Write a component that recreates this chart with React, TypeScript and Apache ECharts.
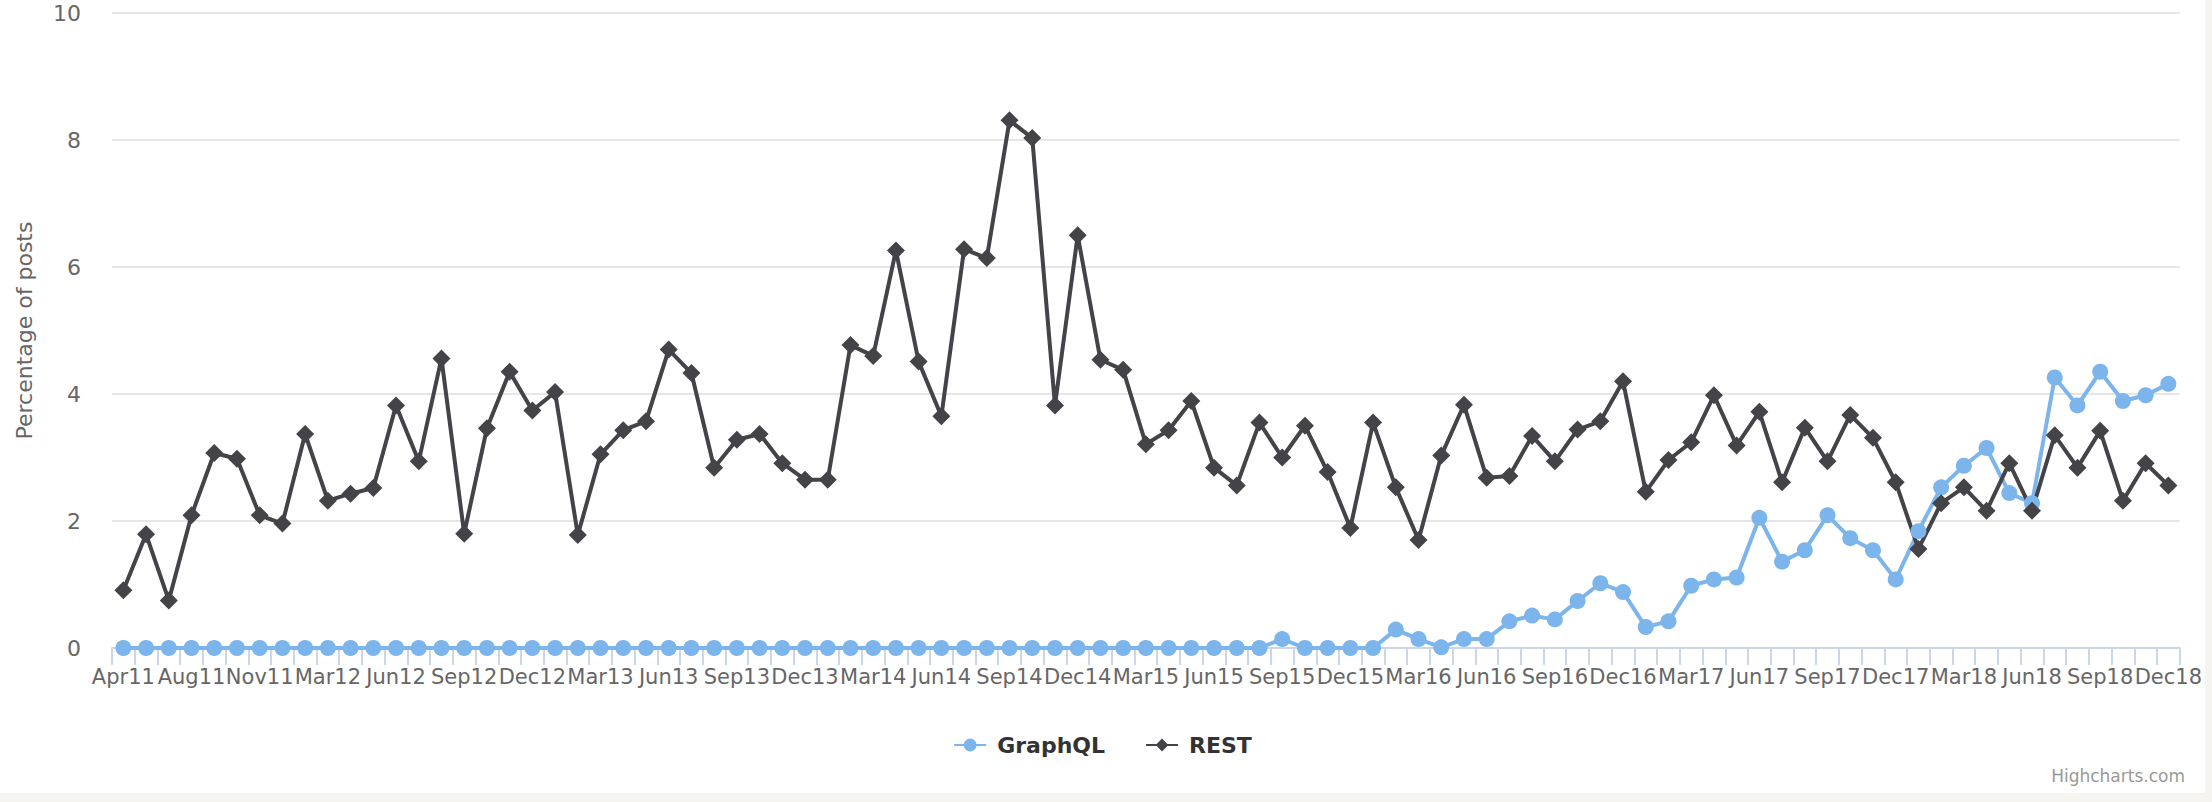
import React, { useEffect, useRef } from "react";
import * as echarts from "echarts";

const categories = [
  "Apr11", "May11", "Jul11", "Aug11", "Sep11", "Oct11", "Nov11", "Dec11",
  "Feb12", "Mar12", "Apr12", "May12", "Jun12", "Jul12", "Aug12", "Sep12", "Oct12", "Nov12", "Dec12",
  "Jan13", "Feb13", "Mar13", "Apr13", "May13", "Jun13", "Jul13", "Aug13", "Sep13", "Oct13", "Nov13", "Dec13",
  "Jan14", "Feb14", "Mar14", "Apr14", "May14", "Jun14", "Jul14", "Aug14", "Sep14", "Oct14", "Nov14", "Dec14",
  "Jan15", "Feb15", "Mar15", "Apr15", "May15", "Jun15", "Jul15", "Aug15", "Sep15", "Oct15", "Nov15", "Dec15",
  "Jan16", "Feb16", "Mar16", "Apr16", "May16", "Jun16", "Jul16", "Aug16", "Sep16", "Oct16", "Nov16", "Dec16",
  "Jan17", "Feb17", "Mar17", "Apr17", "May17", "Jun17", "Jul17", "Aug17", "Sep17", "Oct17", "Nov17", "Dec17",
  "Jan18", "Feb18", "Mar18", "Apr18", "May18", "Jun18", "Jul18", "Aug18", "Sep18", "Oct18", "Nov18", "Dec18",
];

const graphqlValues = [
  0, 0, 0, 0, 0, 0, 0, 0, 0, 0,
  0, 0, 0, 0, 0, 0, 0, 0, 0, 0,
  0, 0, 0, 0, 0, 0, 0, 0, 0, 0,
  0, 0, 0, 0, 0, 0, 0, 0, 0, 0,
  0, 0, 0, 0, 0, 0, 0, 0, 0, 0,
  0, 0.14, 0, 0, 0, 0, 0.29, 0.14, 0.01, 0.14,
  0.14, 0.42, 0.51, 0.45, 0.74, 1.02, 0.88, 0.33, 0.42, 0.98,
  1.08, 1.11, 2.05, 1.36, 1.54, 2.09, 1.73, 1.54, 1.08, 1.84,
  2.53, 2.87, 3.15, 2.44, 2.28, 4.26, 3.82, 4.35, 3.89, 3.98,
  4.16,
];

const restValues = [
  0.91, 1.79, 0.75, 2.09, 3.07, 2.98, 2.09, 1.96, 3.37, 2.32,
  2.43, 2.52, 3.82, 2.94, 4.56, 1.8, 3.46, 4.35, 3.74, 4.03,
  1.78, 3.05, 3.43, 3.57, 4.7, 4.33, 2.84, 3.28, 3.37, 2.91,
  2.65, 2.65, 4.77, 4.6, 6.26, 4.51, 3.65, 6.28, 6.14, 8.31,
  8.03, 3.82, 6.5, 4.54, 4.38, 3.21, 3.43, 3.89, 2.84, 2.56,
  3.55, 3.0, 3.5, 2.77, 1.89, 3.55, 2.53, 1.7, 3.03, 3.83,
  2.68, 2.71, 3.34, 2.94, 3.44, 3.57, 4.2, 2.46, 2.96, 3.24,
  3.98, 3.19, 3.72, 2.61, 3.47, 2.94, 3.67, 3.31, 2.61, 1.56,
  2.28, 2.53, 2.16, 2.91, 2.16, 3.35, 2.84, 3.42, 2.32, 2.91,
  2.56,
];

const FONT = "'DejaVu Sans', 'Lucida Grande', sans-serif";

export default function App() {
  const ref = useRef<HTMLDivElement>(null);

  useEffect(() => {
    const chart = echarts.init(ref.current as HTMLDivElement, null, { renderer: "svg" });
    chart.setOption({
      animation: false,
      backgroundColor: "#ffffff",
      textStyle: { fontFamily: FONT },
      grid: { left: 112, right: 18, top: 13, bottom: 145, containLabel: false },
      legend: {
        top: 729,
        left: "center",
        itemWidth: 32,
        itemHeight: 16,
        itemGap: 40,
        textStyle: { fontFamily: FONT, fontSize: 22, fontWeight: "bold", color: "#333333", padding: [0, 0, 0, 6] },
        data: ["GraphQL", "REST"],
      },
      xAxis: {
        type: "category",
        data: categories,
        boundaryGap: true,
        axisLine: { lineStyle: { color: "#ccd6eb", width: 2 } },
        axisTick: { show: true, interval: 0, length: 17, lineStyle: { color: "#ccd6eb", width: 2 } },
        axisLabel: { interval: 2, color: "#666666", fontSize: 21, fontFamily: FONT, margin: 18 },
        splitLine: { show: false },
      },
      yAxis: {
        type: "value",
        min: 0,
        max: 10,
        interval: 2,
        name: "Percentage of posts",
        nameLocation: "middle",
        nameGap: 77,
        nameTextStyle: { color: "#666666", fontSize: 22, fontFamily: FONT },
        axisLine: { show: false },
        axisTick: { show: false },
        axisLabel: { color: "#666666", fontSize: 22, fontFamily: FONT, margin: 31 },
        splitLine: { lineStyle: { color: "#e6e6e6", width: 2 } },
      },
      series: [
        {
          name: "GraphQL",
          type: "line",
          data: graphqlValues,
          symbol: "circle",
          symbolSize: 16,
          showAllSymbol: true,
          color: "#7cb5ec",
          lineStyle: { width: 4, color: "#7cb5ec" },
          itemStyle: { color: "#7cb5ec" },
        },
        {
          name: "REST",
          type: "line",
          data: restValues,
          symbol: "diamond",
          symbolSize: 18,
          showAllSymbol: true,
          color: "#434348",
          lineStyle: { width: 4, color: "#434348" },
          itemStyle: { color: "#434348" },
        },
      ],
      graphic: [
        {
          type: "text",
          right: 20,
          top: 767,
          style: { text: "Highcharts.com", fill: "#999999", fontSize: 17, fontFamily: FONT },
        },
      ],
    });
    return () => chart.dispose();
  }, []);

  return (
    <div style={{ position: "absolute", left: 0, top: 0, width: 2212, height: 802, background: "#f5f4ee" }}>
      <div ref={ref} style={{ width: 2205, height: 793, background: "#ffffff" }} />
    </div>
  );
}
